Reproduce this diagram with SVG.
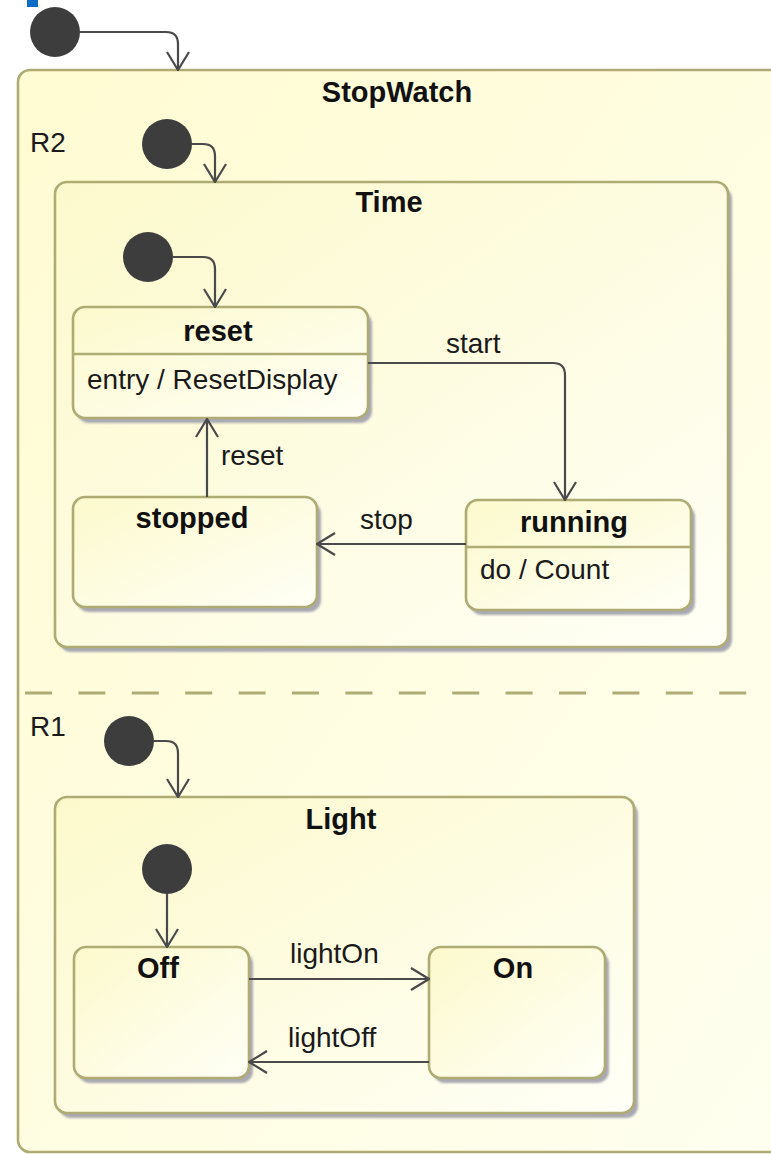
<svg xmlns="http://www.w3.org/2000/svg" width="771" height="1154" viewBox="0 0 771 1154">
  <defs>
    <style>
      .state { stroke: #aeac74; stroke-width: 2.6; fill: url(#stateFill); }
      .shadow { fill: #a9a9b2; filter: url(#soft); }
      .divider { stroke: #aeac74; stroke-width: 2.4; fill: none; }
      .initial { fill: #3d3d3d; }
      .edge { fill: none; stroke: #4a4a4a; stroke-width: 2.2; marker-end: url(#open); }
      .title { font-family: "Liberation Sans", Arial, sans-serif; font-size: 29px; font-weight: bold; fill: #111; text-anchor: middle; }
      .label { font-family: "Liberation Sans", Arial, sans-serif; font-size: 28px; fill: #1a1a1a; }
    </style>
    <linearGradient id="stateFill" x1="0" y1="0" x2="1" y2="1">
      <stop offset="0" stop-color="#fcf9cc"/>
      <stop offset="1" stop-color="#fffff6"/>
    </linearGradient>
    <linearGradient id="outerFill" x1="0" y1="0" x2="1" y2="1">
      <stop offset="0" stop-color="#fffbd2"/>
      <stop offset="1" stop-color="#fffff0"/>
    </linearGradient>
    <filter id="soft" x="-5%" y="-5%" width="110%" height="110%">
      <feGaussianBlur stdDeviation="1.3"/>
    </filter>
    <marker id="open" viewBox="0 0 20 24" refX="19" refY="12" markerWidth="20" markerHeight="24" markerUnits="userSpaceOnUse" orient="auto">
      <path d="M1,1 L19,12 L1,23" fill="none" stroke="#4a4a4a" stroke-width="2.2"/>
    </marker>
  </defs>

  <rect x="0" y="0" width="771" height="1154" fill="#ffffff"/>
  <rect x="27" y="0" width="11" height="7" fill="#0a6cc4"/>

  <!-- top-level initial pseudostate -->
  <g id="init-top">
    <circle class="initial" cx="55" cy="32" r="25"/>
  </g>

  <!-- composite state StopWatch with two orthogonal regions -->
  <g id="StopWatch">
    <rect x="18" y="70" width="780" height="1082" rx="12" fill="url(#outerFill)" stroke="#aeac74" stroke-width="2.6"/>
    <text class="title" x="397" y="102">StopWatch</text>
    <text class="label" x="30" y="152">R2</text>
    <line x1="25" y1="693" x2="771" y2="693" stroke="#aeac74" stroke-width="3" stroke-dasharray="27 26.4"/>
    <text class="label" x="30" y="736">R1</text>
  </g>

  <g id="init-R2">
    <circle class="initial" cx="167" cy="144" r="25"/>
  </g>

  <g id="Time">
    <rect class="shadow" x="59" y="187" width="673" height="465" rx="12"/>
    <rect class="state" x="55" y="182" width="673" height="465" rx="12"/>
    <text class="title" x="389" y="212">Time</text>
  </g>

  <g id="init-Time">
    <circle class="initial" cx="148" cy="257" r="25"/>
  </g>

  <g id="reset">
    <rect class="shadow" x="77" y="312" width="295" height="111" rx="12"/>
    <rect class="state" x="73" y="307" width="295" height="111" rx="12"/>
    <line class="divider" x1="73" y1="354" x2="368" y2="354"/>
    <text class="title" x="218" y="341">reset</text>
    <text class="label" x="87" y="389">entry / ResetDisplay</text>
  </g>

  <g id="stopped">
    <rect class="shadow" x="77" y="502" width="244" height="110" rx="12"/>
    <rect class="state" x="73" y="497" width="244" height="110" rx="12"/>
    <text class="title" x="192" y="528">stopped</text>
  </g>

  <g id="running">
    <rect class="shadow" x="470" y="505" width="225" height="110" rx="12"/>
    <rect class="state" x="466" y="500" width="225" height="110" rx="12"/>
    <line class="divider" x1="466" y1="547" x2="691" y2="547"/>
    <text class="title" x="574" y="532">running</text>
    <text class="label" x="480" y="579">do / Count</text>
  </g>

  <g id="init-R1">
    <circle class="initial" cx="129" cy="741" r="25"/>
  </g>

  <g id="Light">
    <rect class="shadow" x="59" y="802" width="579" height="316" rx="12"/>
    <rect class="state" x="55" y="797" width="579" height="316" rx="12"/>
    <text class="title" x="341" y="829">Light</text>
  </g>

  <g id="init-Light">
    <circle class="initial" cx="167" cy="869" r="25"/>
  </g>

  <g id="Off">
    <rect class="shadow" x="78" y="952" width="175" height="131" rx="12"/>
    <rect class="state" x="74" y="947" width="175" height="131" rx="12"/>
    <text class="title" x="158" y="978">Off</text>
  </g>

  <g id="On">
    <rect class="shadow" x="433" y="952" width="176" height="131" rx="12"/>
    <rect class="state" x="429" y="947" width="176" height="131" rx="12"/>
    <text class="title" x="513" y="978">On</text>
  </g>

  <!-- transitions -->
  <g id="connectors">
    <path class="edge" d="M80,32 H166 Q178,32 178,44 V70"/>
    <path class="edge" d="M191,144 H203 Q215,144 215,156 V182"/>
    <path class="edge" d="M173,257 H203 Q215,257 215,269 V307"/>
    <path class="edge" d="M368,363 H553 Q565,363 565,375 V500"/>
    <text class="label" x="446" y="353">start</text>
    <path class="edge" d="M466,544 H317"/>
    <text class="label" x="360" y="529">stop</text>
    <path class="edge" d="M207,497 V419"/>
    <text class="label" x="221" y="465">reset</text>
    <path class="edge" d="M154,741 H166 Q178,741 178,753 V797"/>
    <path class="edge" d="M167,894 V947"/>
    <path class="edge" d="M249,979 H429"/>
    <text class="label" x="290" y="963">lightOn</text>
    <path class="edge" d="M429,1062 H249"/>
    <text class="label" x="288" y="1047">lightOff</text>
  </g>
</svg>
